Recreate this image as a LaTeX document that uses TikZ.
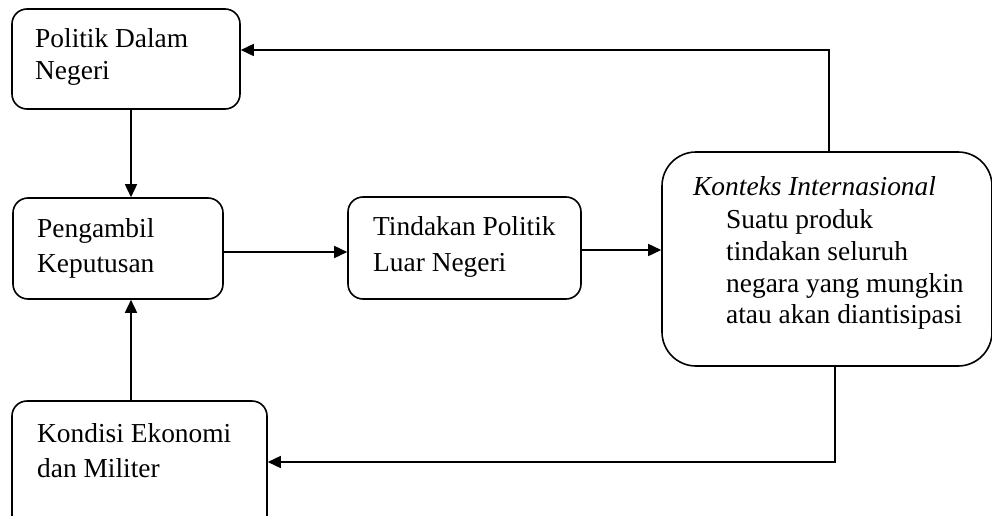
\documentclass[tikz,border=0pt]{standalone}
\usepackage{fontspec}
\setmainfont{Liberation Serif}
\usetikzlibrary{arrows.meta}
\begin{document}
\begin{tikzpicture}[x=1pt,y=-1pt,
  box/.style={draw, line width=1.6pt, rounded corners=15pt, inner sep=0pt},
  txt/.style={anchor=base west, inner sep=0pt, font=\fontsize{27.4}{32}\selectfont},
  conn/.style={line width=1.6pt},
  arr/.style={line width=1.6pt, -{Triangle[length=13pt,width=12pt]}}]
\clip (0,0) rectangle (992,516);
\useasboundingbox (0,0) rectangle (992,516);
% boxes
\node[box, minimum width=228pt, minimum height=100pt] (pdn) at (126,59) {};
\node[box, minimum width=210pt, minimum height=101pt] (pk) at (118,248.5) {};
\node[box, minimum width=233pt, minimum height=102pt] (tpln) at (464.5,248) {};
\node[box, rounded corners=34pt, minimum width=330pt, minimum height=214pt] (ki) at (827,259) {};
\node[box, minimum width=255pt, minimum height=140pt] (kem) at (139.5,471) {};
% texts
\node[txt] (t1a) at (35,48) {Politik Dalam};
\node[txt] (t1b) at (35,80) {Negeri};
\node[txt] (t2a) at (37,237) {Pengambil};
\node[txt] (t2b) at (37,272) {Keputusan};
\node[txt] (t3a) at (373,235) {Tindakan Politik};
\node[txt] (t3b) at (373,271) {Luar Negeri};
\node[txt] (t4a) at (693,195) {\itshape Konteks Internasional};
\node[txt] (t4b) at (726,228) {Suatu produk};
\node[txt] (t4c) at (726,260) {tindakan seluruh};
\node[txt] (t4d) at (726,292) {negara yang mungkin};
\node[txt] (t4e) at (726,323) {atau akan diantisipasi};
\node[txt] (t5a) at (37,442) {Kondisi Ekonomi};
\node[txt] (t5b) at (37,477) {dan Militer};
% helper coordinates
\coordinate (ctop) at (829,50);
\coordinate (cbot) at (835,462);
\coordinate (cv) at (131,0);
\coordinate (ch1) at (0,252);
\coordinate (ch2) at (0,250);
% connectors
\draw[arr] (ki.north -| ctop) |- (pdn.east |- ctop);
\draw[arr] (pdn.south -| cv) -- (pk.north -| cv);
\draw[arr] (pk.east |- ch1) -- (tpln.west |- ch1);
\draw[arr] (tpln.east |- ch2) -- (ki.west |- ch2);
\draw[arr] (ki.south -| cbot) |- (kem.east |- cbot);
\draw[arr] (kem.north -| cv) -- (pk.south -| cv);
\end{tikzpicture}
\end{document}
